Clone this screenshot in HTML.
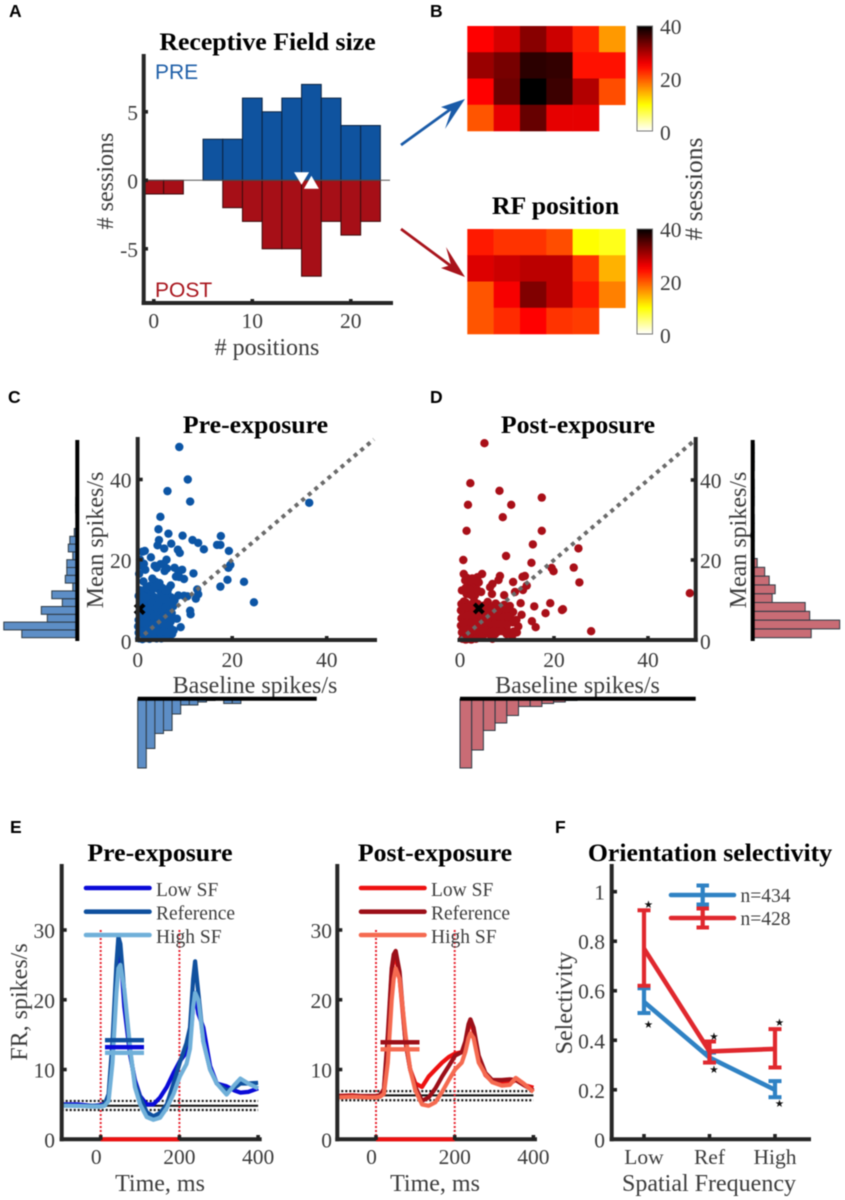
<!DOCTYPE html>
<html lang="en">
<head>
<meta charset="utf-8">
<title>Receptive field and firing rate figure</title>
<style>
html,body{margin:0;padding:0;background:#fff;}
#fig{display:block;width:845px;height:1200px;filter:blur(0.6px);}
text{font-family:"Liberation Serif",serif;}
.tk{font-size:21.5px;fill:#3c3c3c;}
.lab{font-size:24px;fill:#3c3c3c;}
.ttl{font-size:25.8px;font-weight:bold;fill:#000;}
.let{font-family:"Liberation Sans",sans-serif;font-size:17.5px;font-weight:bold;fill:#000;}
.leg{font-size:19.5px;fill:#3c3c3c;}
</style>
</head>
<body>
<svg id="fig" xmlns="http://www.w3.org/2000/svg" width="845" height="1200" viewBox="0 0 845 1200">
  <rect x="0" y="0" width="845" height="1200" fill="#fff"/>
  <defs>
    <linearGradient id="hotGrad" x1="0" y1="1" x2="0" y2="0"></linearGradient>
  </defs>
  <g id="panel-a">
    <text class="let" x="9" y="17">A</text>
    <text class="ttl" x="267.5" y="50" text-anchor="middle">Receptive Field size</text>
    <text x="155" y="79" style="font-family:'Liberation Sans',sans-serif;font-size:21px;fill:#1f5fa8">PRE</text>
    <text x="155" y="297" style="font-family:'Liberation Sans',sans-serif;font-size:21px;fill:#a8141c">POST</text>
    <text class="lab" x="267" y="355" text-anchor="middle"># positions</text>
    <text class="lab" transform="translate(113 181) rotate(-90)" text-anchor="middle"># sessions</text>
  </g>
  <g id="panel-b">
    <text class="let" x="430" y="17">B</text>
    <text class="ttl" x="555.5" y="214" text-anchor="middle">RF position</text>
    <text class="lab" transform="translate(702 189) rotate(-90)" text-anchor="middle" style="font-size:25.5px"># sessions</text>
    <g>
      <line x1="401" y1="145" x2="455" y2="106" stroke="#1a5ba8" stroke-width="2.8"/>
      <polygon points="465,99 441,107 451,111 445,129" fill="#1a5ba8"/>
    </g>
    <g>
      <line x1="401" y1="229" x2="455" y2="269" stroke="#a8141c" stroke-width="2.8"/>
      <polygon points="465,277 446,247 451,265 441,268" fill="#a8141c"/>
    </g>
  </g>
  <g id="panel-c">
    <text class="let" x="8" y="403">C</text>
    <text class="ttl" x="255.5" y="433" text-anchor="middle">Pre-exposure</text>
    <text class="lab" x="255" y="693" text-anchor="middle">Baseline spikes/s</text>
    <text class="lab" transform="translate(103 540) rotate(-90)" text-anchor="middle">Mean spikes/s</text>
  </g>
  <g id="panel-d">
    <text class="let" x="430" y="403">D</text>
    <text class="ttl" x="578" y="433" text-anchor="middle">Post-exposure</text>
    <text class="lab" x="577.5" y="693" text-anchor="middle">Baseline spikes/s</text>
    <text class="lab" transform="translate(746 540) rotate(-90)" text-anchor="middle">Mean spikes/s</text>
  </g>
  <g id="panel-e">
    <text class="let" x="10" y="833">E</text>
    <text class="ttl" x="160" y="861" text-anchor="middle">Pre-exposure</text>
    <text class="ttl" x="435" y="861" text-anchor="middle">Post-exposure</text>
    <text class="lab" x="160" y="1191" text-anchor="middle">Time, ms</text>
    <text class="lab" x="435" y="1191" text-anchor="middle">Time, ms</text>
    <text class="lab" transform="translate(27 1002) rotate(-90)" text-anchor="middle">FR, spikes/s</text>
  </g>
  <g id="panel-f">
    <text class="let" x="555" y="833">F</text>
    <text class="ttl" x="710" y="861" text-anchor="middle">Orientation selectivity</text>
    <text class="lab" transform="translate(572 1003) rotate(-90)" text-anchor="middle">Selectivity</text>
    <text class="lab" x="709" y="1191" text-anchor="middle">Spatial Frequency</text>
  </g>
</svg>
<script>
/* ---------- Panel A data ---------- */
const sizeBins = [0, 2, 4, 6, 8, 10, 12, 14, 16, 18, 20, 22];
const sizePre = [0, 0, 0, 3, 3, 6, 5, 6, 7, 6, 4, 4];
const sizePost = [1, 1, 0, 0, 2, 3, 5, 5, 7, 3, 4, 3];
const sizeMedianPre = 15;
const sizeMedianPost = 16;
const sizeXTicks = [0, 10, 20];
const sizeYTicks = [5, 0, -5];

/* ---------- Panel B data ---------- */
const heatPre = [
  [25, 27.5, 32, 28, 23, 16],
  [31, 33, 37.5, 37, 24, 24],
  [25, 33.5, 40, 36.5, 29.5, 20.5],
  [20, 26.5, 34, 26.5, 26.5, null]
];
const heatPost = [
  [23.5, 22, 22, 20.5, 10, 9],
  [27, 28, 29, 29, 22, 14.5],
  [20, 25.5, 32.5, 29, 23.5, 17.5],
  [20, 22.5, 25, 22, 21.5, null]
];
const colorbarTicks = [0, 20, 40];

/* ---------- Panels C and D data ---------- */
const preBaseline = [8.8,10.6,6.3,11.1,36.3,4.8,4.4,6.5,9.5,11.6,12.8,14,17.6,16.8,17.5,19.3,19.6,19.2,19,17.5,22.5,24.6,11.8,12.6,12.8,12.3,11.1,11.2,9.1,8.3,
7.1,5.6,4.2,4.5,8.9,8.5,2.8,1,1.5,0.5,0.7,1.3,1.6,0.3,1.2,3.6,4,4.8,5.5,6.1,6.2,5.7,7.8,8.6,9.4,8.1,8.8,9.8,3.1,3.8,4.6,7,6.5,
0.2,0.8,1.5,2.2,2.9,3.5,4.2,4.9,5.6,6.3,7.1,7.8,8.6,9.8,10.5,
0.4,1.1,1.9,2.6,3.3,4,4.7,5.4,6.1,6.8,7.5,
0.3,0.9,1.6,2.3,3,3.7,4.4,5.1,5.8,6.5,7.2,
0.2,0.8,1.4,2.1,2.8,3.5,4.2,4.9,5.6,6.3,7,
0.1,0.7,1.3,2,2.7,3.4,4.1,4.8,5.5,6.2,6.9,7.6,
0.2,0.9,1.6,2.3,3,3.7,4.4,5.1,5.8,6.5,7.3,
0.3,1,1.8,2.5,3.2,4,5,
1,1.8,2.6,3.4,4.1,5.2,5.9,0.5,1.3,2,2.8,3.6,4.4,5.1,5.9,6.7,7.4,0.6,1.4,2.3,3,3.7,4.4,5.2,5.9,6.6,
0.6,1.3,2,2.7,3.4,4.1,4.8,5.4,6.1,6.8,0.5,1.1,1.8,2.5,3.2,3.9,4.6,5.2,5.9,6.6,
0.4,1.1,1.9,2.6,3.4,4,4.8,5.5,6.2,7];
const preMean = [48.1,40,37.1,34.5,34.2,30.7,27.6,26.5,26,24.9,24.2,22.6,25.9,23.7,23.7,22.2,18.7,18,15,13.3,14.5,9.4,16.6,12.6,11.4,10.3,7.3,6.4,3.2,5.3,
24,22.8,23.6,24.9,21.7,22.5,20.6,22,22.2,20,18.5,19,17.5,16.5,14.6,18.5,18,18.9,19,20,17.8,17.2,18,17.2,17.5,15.8,15.7,15.2,15.3,14.5,14.2,13.6,12.8,
11,10.2,9.5,12.2,11.4,10.7,12.8,11.9,11.2,11.8,10.6,9.9,11.1,11,10.9,
8.6,7.8,8.9,9.4,8.4,9.1,8.2,9.6,8.7,7.7,8.4,
6.9,6.1,7,6.4,7.3,6.6,7,6.2,6.9,5.9,6.7,
5,4.4,5.3,4.7,5.5,4.8,5.2,4.3,5,4.2,4.6,
3.4,2.9,3.6,3.1,3.7,2.8,3.4,2.7,3.3,2.6,3,2.4,
1.8,1.3,1.9,1.2,1.8,1.1,1.7,1,1.6,1.1,1.5,
0.4,0.2,0.5,0.3,0.6,0.4,0.4,
12,13,13.5,12.9,13.6,13,12.4,12.4,10.9,10.4,10,9.7,10.2,9.9,10.2,9.4,9.2,9.4,8.4,7.7,9.2,7.8,8.8,7.5,7.9,6.8,
5.8,6.3,5.7,6.6,5.8,6.1,5.6,5.8,5.5,5.2,4,4.2,4,3.9,4.1,3.9,3.7,4,3.8,3.6,
2.3,2.2,2.5,2.2,2,2.4,1.9,2.2,1.9,2.1];
const preCenterBaseline = 0.4;
const preCenterMean = 7.7;

const postBaseline = [5.2,2.2,8.4,17.4,1.7,10.9,9.1,1.4,17.4,15.5,25.2,0.7,9.8,15.2,19.5,19.9,24.2,25.4,48.9,27.9,19.2,21.7,21.9,18.2,15.8,16.1,15.3,
13.8,13.3,11.3,14.2,13.4,11.7,9.4,8.5,8.2,6.9,6.4,6.8,4.7,3.7,2.6,0.8,1.1,0.4,1.8,2.9,1.4,3.2,0.8,12.9,10.6,13.1,12.4,
0.3,1.2,2.1,3,3.8,5.1,5.9,6.8,7.6,8.5,9.4,10.2,
0.2,1,1.9,2.8,3.6,4.6,5.4,6.3,7.2,8,8.9,9.8,10.7,11.3,
0.3,1.1,2,2.9,3.7,4.5,5.3,6.2,7,7.9,8.7,9.6,10.4,11.2,12,
0.2,1,1.8,2.7,3.5,4.4,5.2,6.1,7,7.8,8.6,9.9,11.4,12.1,
0.4,1.3,2.1,3,3.8,4.8,5.7,6.6,7.5,9.9,11.1,
0.5,1.2,1.5,2.4,3.4,6.9,
1.5,2.2,3.3,4,1.2,2.1,3.6,2.4,4.5,0.6,1.6,2.5,3.4,4.4,5.5,6.5,7.4,8.4,9.8,
0.7,1.5,2.4,3.2,4.1,5,5.8,6.8,7.6,8.5,9.3,10.2,0.7,1.5,2.4,3.3,4.1,4.9,5.7,6.6,7.4,8.2,9.1,10,
0.8,1.6,2.4,3.2,4,4.9,5.6,6.5,7.3,8.1,8.9];
const postMean = [49.2,39.2,37.3,35.6,33.8,33.8,30.7,27.3,27.3,23.9,22.9,20,21,19.3,18,17.2,18.1,14.4,11.7,2.2,9.2,7.5,7.7,6.7,8.4,3.2,4.7,
16,15.8,14.5,13.6,12.5,12,11.2,16,15,14,13.2,11.5,16.5,15.7,15.4,16.5,14.9,12.4,14,13.7,11.5,11.2,9.6,9.2,8.5,6.3,3.4,
9,9.4,8.8,9.8,9,8.6,9.5,8.3,9.1,8.4,8.8,7.9,
7.4,6.9,7.6,7,7.5,7.1,6.6,7.3,6.5,7,6.4,6.9,6.2,7,
5.4,4.9,5.6,5,5.5,4.8,5.6,4.9,5.3,4.6,5.2,4.5,5,4.4,5,
3.6,3,3.7,3.1,3.5,2.8,3.4,2.7,3.3,2.6,3.2,2.9,2.1,1.9,
1.9,1.3,1.9,1.2,1.6,1,1.6,1.1,1.5,1.5,1,
0.3,0.1,0.2,0.1,0.3,0.3,
15.5,14.8,15,14.4,13,12.6,12.6,11.2,12,8.2,8.3,8.1,8.2,8.4,7.8,8,7.9,7.7,7.8,
6.2,6,6.3,6.2,6.2,5.9,6,5.9,5.9,5.8,5.7,5.8,4.2,4.3,4.2,4.3,3.9,4.2,4.3,4.1,4.1,3.9,3.9,3.8,
2.5,2.6,2.5,2.3,2.2,2.2,2.4,2,2.3,2.1,2.2];
const postCenterBaseline = 4;
const postCenterMean = 7.9;

const scatterTicks = [0, 20, 40];
const unityLine = [0, 50];
const preMeanHist = [37, 49, 20, 24, 10, 17, 3, 8, 7, 7, 3, 6, 5, 2, 0, 0, 1, 1];
const preBaseHist = [46, 33, 23, 21, 10, 4, 4, 2, 1, 0, 3, 3];
const postMeanHist = [39, 58, 38, 35, 13, 15, 11, 8, 3, 1, 1, 1, 1, 1, 0, 1, 1, 1, 0, 1, 1, 1];
const postBaseHist = [46, 34, 21, 16, 11, 5, 5, 3, 2, 1];

/* ---------- Panel E data ---------- */
const times = [-100,-60,-20,0,10,20,30,40,45,50,60,75,87,100,117,134,151,168,185,201,218,227,235,240,248,261,278,295,320,340,355,375,400];
const preLowFR = [5,5,4.8,4.9,5.1,6,13,24,28.5,27,19,12,8.5,6.2,5,5,6,7.5,9.5,11.2,12.5,14,19,21,18,16,10.5,8,7.6,7,6.7,6.8,7.3];
const preRefFR = [4.9,4.8,4.8,4.8,5,6.5,14,25,29,28,21,12.5,8,6,3.9,3.3,3.8,5,8,11,13.8,16,23,25.5,21,14,10,8,7,7.4,8,8,8.1];
const preHighFR = [4.8,4.8,4.7,4.7,4.8,5.5,11,21,24.5,25,21.5,13,7.5,5,3.2,2.8,3.1,4.5,6.5,9,10.8,13,19,21,20,14,10,8,6.4,7.8,8.7,8,7.3];
const postLowFR = [6.2,6.3,6.1,6.2,6.3,7,14,24,26,26.5,23,14,10,8,7.5,9,10,11,11.8,12.3,12.5,13.5,16,17,15.5,11.5,9.2,8.3,8.3,8,8.5,7.8,7.4];
const postRefFR = [6.2,6.2,6.2,6.2,6.3,7.2,15,24.5,26.5,27,24,14,10,7.5,5.5,6,7.3,9,10.5,12,12.5,14,16.5,17.2,16,12,9.5,8.5,8.5,8.6,8.5,7.8,7];
const postHighFR = [6,6.1,6,6,6.1,6.5,11,20,23,24.5,23,15,10,7,5,4.8,5.3,6.8,8.5,10,11,12.5,14.5,15.2,14.5,11,9.3,8.2,7.7,7.8,8.8,8,6.8];
const preMeanBars = [13.2, 14.2, 12.4];
const postMeanBars = [13.9, 13.9, 12.9];
const preBaselineLevels = [4.8, 5.5, 4.2];
const postBaselineLevels = [6.3, 6.9, 5.6];
const stimulusWindow = [0, 200];
const frYTicks = [0, 10, 20, 30];
const frXTicks = [0, 200, 400];
const sfLegend = ["Low SF", "Reference", "High SF"];

/* ---------- Panel F data ---------- */
const sfCategories = ["Low", "Ref", "High"];
const selBlue = [0.555, 0.33, 0.2];
const selBlueLow = [0.51, 0.31, 0.17];
const selBlueHigh = [0.61, 0.35, 0.235];
const selRed = [0.77, 0.355, 0.365];
const selRedLow = [0.62, 0.31, 0.29];
const selRedHigh = [0.925, 0.395, 0.445];
const starCategory = [0, 0, 1, 1, 2, 2];
const starValue = [0.95, 0.465, 0.418, 0.283, 0.473, 0.146];
const selTicks = [0, 0.2, 0.4, 0.6, 0.8, 1];
const selTickLabels = ["0", "0.2", "0.4", "0.6", "0.8", "1"];
const selLegend = ["n=434", "n=428"];

/* ---------- helpers ---------- */
const SVGNS = 'http://www.w3.org/2000/svg';
function add(parent, tag, name, attrs, txt) {
  const el = document.createElementNS(SVGNS, tag);
  
  
  for (const k in attrs) el.setAttribute(k, attrs[k]);
  if (txt !== undefined) el.textContent = txt;
  parent.appendChild(el);
  return el;
}
function linear(d0, d1, r0, r1) {
  return function (v) { return r0 + (v - d0) * (r1 - r0) / (d1 - d0); };
}
const AXIS = '#262626';
function axisLine(p, name, x1, y1, x2, y2) {
  add(p, 'line', name, {x1: x1, y1: y1, x2: x2, y2: y2, stroke: AXIS, 'stroke-width': 4, 'stroke-linecap': 'square'});
}
function tickMark(p, name, x1, y1, x2, y2) {
  add(p, 'line', name, {x1: x1, y1: y1, x2: x2, y2: y2, stroke: '#222', 'stroke-width': 3.6});
}
function label(p, name, x, y, anchor, txt) {
  add(p, 'text', name, {x: x, y: y, 'text-anchor': anchor, 'class': 'tk'}, txt);
}
function hot(v) {
  const t = 1 - v / 40;
  const c = function (a) { return Math.round(255 * Math.max(0, Math.min(1, a))); };
  return 'rgb(' + c(t / 0.375) + ',' + c((t - 0.375) / 0.375) + ',' + c((t - 0.75) / 0.25) + ')';
}

/* ---------- Panel A ---------- */
(function () {
  const p = document.getElementById('panel-a');
  const x = linear(0, 20, 153.8, 350.8);
  const y = linear(0, 5, 180.3, 111.8);
  const BLUE = '#0f539f', RED = '#a60f17';
  const binW = 2;
  sizeBins.forEach(function (b, i) {
    if (sizePre[i] > 0) {
      add(p, 'rect', 'pre-bar-' + b, {x: x(b - binW / 2), y: y(sizePre[i]), width: x(b + binW / 2) - x(b - binW / 2), height: y(0) - y(sizePre[i]), fill: BLUE, stroke: '#0a2342', 'stroke-width': 1});
    }
    if (sizePost[i] > 0) {
      add(p, 'rect', 'post-bar-' + b, {x: x(b - binW / 2), y: y(0), width: x(b + binW / 2) - x(b - binW / 2), height: y(-sizePost[i]) - y(0), fill: RED, stroke: '#3d0a0c', 'stroke-width': 1});
    }
  });
  add(p, 'line', 'zero-line', {x1: 144, y1: y(0), x2: 390, y2: y(0), stroke: '#555', 'stroke-width': 1});
  const mx1 = x(sizeMedianPre), mx2 = x(sizeMedianPost);
  add(p, 'polygon', 'pre-median-marker', {points: (mx1 - 7.5) + ',' + (y(0) - 8) + ' ' + (mx1 + 7.5) + ',' + (y(0) - 8) + ' ' + mx1 + ',' + (y(0) + 4.5), fill: '#fff'});
  add(p, 'polygon', 'post-median-marker', {points: (mx2 - 7.5) + ',' + (y(0) + 8.5) + ' ' + (mx2 + 7.5) + ',' + (y(0) + 8.5) + ' ' + mx2 + ',' + (y(0) - 4.5), fill: '#fff'});
  axisLine(p, 'y-axis', 143.7, 56, 143.7, 303);
  axisLine(p, 'x-axis', 143.7, 303, 391, 303);
  sizeXTicks.forEach(function (t) {
    tickMark(p, 'x-tick-' + t, x(t), 303, x(t), 299);
    label(p, 'x-tick-label-' + t, x(t), 328, 'middle', String(t));
  });
  sizeYTicks.forEach(function (t) {
    tickMark(p, 'y-tick-' + t, 144, y(t), 148, y(t));
    label(p, 'y-tick-label-' + t, 138, y(t) + 8, 'end', String(t));
  });
})();

/* ---------- Panel B ---------- */
(function () {
  const p = document.getElementById('panel-b');
  const grad = document.getElementById('hotGrad');
  for (let v = 0; v <= 40; v += 2) {
    const s = document.createElementNS(SVGNS, 'stop');
    s.setAttribute('offset', (v / 40));
    s.setAttribute('stop-color', hot(v));
    grad.appendChild(s);
  }
  function heat(name, rows, top) {
    const cx = linear(0, 6, 467.3, 625.3);
    const cy = linear(0, 4, top, top + 105);
    rows.forEach(function (row, r) {
      row.forEach(function (v, c) {
        if (v === null) return;
        add(p, 'rect', name + '-cell-' + r + '-' + c, {x: cx(c), y: cy(r), width: cx(c + 1) - cx(c) + 0.3, height: cy(r + 1) - cy(r) + 0.3, fill: hot(v)});
      });
    });
    add(p, 'rect', name + '-colorbar', {x: 637, y: top, width: 15.5, height: 105, fill: 'url(#hotGrad)', stroke: '#777', 'stroke-width': 1});
    const vy = linear(0, 40, top + 107, top + 1);
    colorbarTicks.forEach(function (t) {
      label(p, name + '-colorbar-tick-' + t, 660, vy(t) + 7, 'start', String(t));
    });
  }
  heat('heatmap-pre', heatPre, 26);
  heat('heatmap-post', heatPost, 229);
})();

/* ---------- Panels C and D ---------- */
function scatter(p, prefix, cfg, xs, ys, cb, cm, color) {
  const x = linear(0, 40, cfg.x0, cfg.x40);
  const y = linear(0, 40, 640, cfg.y40);
  xs.forEach(function (b, i) {
    add(p, 'circle', prefix + '-point', {cx: x(b), cy: y(ys[i]), r: 4.2, fill: color});
  });
  add(p, 'line', prefix + '-unity-line', {x1: x(unityLine[0]), y1: y(unityLine[0]), x2: x(unityLine[1]), y2: y(unityLine[1]), stroke: '#6a6a6a', 'stroke-width': 4, 'stroke-dasharray': '4 4.6'});
  const px = x(cb), py = y(cm);
  add(p, 'path', prefix + '-population-mean-marker', {d: 'M' + (px - 4.5) + ' ' + (py - 4.5) + 'L' + (px + 4.5) + ' ' + (py + 4.5) + 'M' + (px - 4.5) + ' ' + (py + 4.5) + 'L' + (px + 4.5) + ' ' + (py - 4.5), stroke: '#000', 'stroke-width': 4, fill: 'none'});
  axisLine(p, prefix + '-x-axis', cfg.x0 - 0.5, 640, cfg.xEnd, 640);
  axisLine(p, prefix + '-y-axis', cfg.yAxisX, 439, cfg.yAxisX, 640);
  scatterTicks.forEach(function (t) {
    if (t > 0) {
      tickMark(p, prefix + '-x-tick-' + t, x(t), 640, x(t), 636);
      tickMark(p, prefix + '-y-tick-' + t, cfg.yAxisX, y(t), cfg.yAxisX + (cfg.right ? -5 : 5), y(t));
    }
    label(p, prefix + '-x-tick-label-' + t, x(t), 667, 'middle', String(t));
    label(p, prefix + '-y-tick-label-' + t, cfg.labelX, y(t) + (t === 0 ? 9 : 8), cfg.right ? 'start' : 'end', String(t));
  });
}
function sideHist(p, prefix, counts, lineX, dir, binH, fill) {
  const w = linear(0, 1, 0, 1.5);
  const by = linear(0, 1, 637.7, 637.7 - binH);
  counts.forEach(function (c, i) {
    if (c === 0) return;
    const len = w(c);
    add(p, 'rect', prefix + '-bar', {x: dir < 0 ? lineX - len : lineX, y: by(i + 1), width: len, height: binH, fill: fill, stroke: '#2e3a44', 'stroke-width': 1});
  });
  add(p, 'line', prefix + '-axis', {x1: lineX, y1: 440, x2: lineX, y2: 641, stroke: '#000', 'stroke-width': 4});
}
function bottomHist(p, prefix, counts, x0, x1, binW, fill) {
  const h = linear(0, 1, 0, 1.5);
  const bx = linear(0, 1, x0, x0 + binW);
  counts.forEach(function (c, i) {
    if (c === 0) return;
    add(p, 'rect', prefix + '-bar', {x: bx(i), y: 699, width: binW, height: h(c), fill: fill, stroke: '#2e3a44', 'stroke-width': 1});
  });
  add(p, 'line', prefix + '-axis', {x1: x0, y1: 698.7, x2: x1, y2: 698.7, stroke: '#000', 'stroke-width': 4});
}
(function () {
  const c = document.getElementById('panel-c');
  scatter(c, 'pre', {x0: 137.7, x40: 326.7, y40: 479.5, xEnd: 375, yAxisX: 137.7, labelX: 131.5, right: false}, preBaseline, preMean, preCenterBaseline, preCenterMean, '#0c55a5');
  sideHist(c, 'pre-mean-hist', preMeanHist, 77.3, -1, 7.8, '#5d8ec6');
  bottomHist(c, 'pre-baseline-hist', preBaseHist, 137.7, 316.7, 8.6, '#5d8ec6');
  const d = document.getElementById('panel-d');
  scatter(d, 'post', {x0: 460, x40: 648, y40: 480, xEnd: 695.7, yAxisX: 695.7, labelX: 700, right: true}, postBaseline, postMean, postCenterBaseline, postCenterMean, '#a90f18');
  sideHist(d, 'post-mean-hist', postMeanHist, 752.7, 1, 8.8, '#c96c75');
  bottomHist(d, 'post-baseline-hist', postBaseHist, 460, 695.7, 11.7, '#c96c75');
})();

/* ---------- Panel E ---------- */
function psth(prefix, cfg, series, colors, bars, levels) {
  const p = document.getElementById('panel-e');
  const x = linear(0, 200, cfg.x0, cfg.x0 + 78.7);
  const y = linear(0, 30, 1139.3, 930);
  const axisEnd = x(404);
  add(p, 'line', prefix + '-baseline', {x1: cfg.yAxis, y1: y(levels[0]), x2: x(400), y2: y(levels[0]), stroke: '#111', 'stroke-width': 2});
  add(p, 'line', prefix + '-baseline-upper', {x1: cfg.yAxis, y1: y(levels[1]), x2: x(400), y2: y(levels[1]), stroke: '#111', 'stroke-width': 2.2, 'stroke-dasharray': '2 2'});
  add(p, 'line', prefix + '-baseline-lower', {x1: cfg.yAxis, y1: y(levels[2]), x2: x(400), y2: y(levels[2]), stroke: '#111', 'stroke-width': 2.2, 'stroke-dasharray': '2 2'});
  stimulusWindow.forEach(function (t) {
    add(p, 'line', prefix + '-stimulus-line-' + t, {x1: x(t), y1: y(30), x2: x(t), y2: y(0), stroke: '#e8202c', 'stroke-width': 2, 'stroke-dasharray': '2 2'});
  });
  const names = ['low-sf', 'reference', 'high-sf'];
  series.forEach(function (vals, s) {
    const d = times.map(function (t, i) { return (i ? 'L' : 'M') + x(t).toFixed(1) + ' ' + y(vals[i]).toFixed(1); }).join('');
    add(p, 'path', prefix + '-' + names[s] + '-curve', {d: d, fill: 'none', stroke: colors[s], 'stroke-width': 4.2, 'stroke-linejoin': 'round'});
  });
  bars.forEach(function (v, s) {
    add(p, 'line', prefix + '-' + names[s] + '-mean-bar', {x1: cfg.barX, y1: y(v), x2: cfg.barX + 39, y2: y(v), stroke: colors[s], 'stroke-width': 4.4});
  });
  const legendY = [888, 911.7, 935];
  sfLegend.forEach(function (txt, s) {
    add(p, 'line', prefix + '-legend-line-' + names[s], {x1: cfg.legX, y1: legendY[s], x2: cfg.legX + 63.5, y2: legendY[s], stroke: colors[s], 'stroke-width': 4.6, 'stroke-linecap': 'round'});
    add(p, 'text', prefix + '-legend-label-' + names[s], {x: cfg.legX + 70, y: legendY[s] + 8, 'class': 'leg'}, txt);
  });
  axisLine(p, prefix + '-x-axis', cfg.yAxis, 1139.3, axisEnd, 1139.3);
  axisLine(p, prefix + '-y-axis', cfg.yAxis, 866, cfg.yAxis, 1139.3);
  add(p, 'line', prefix + '-stimulus-bar', {x1: x(stimulusWindow[0]), y1: 1139.3, x2: x(stimulusWindow[1]), y2: 1139.3, stroke: '#ee1111', 'stroke-width': 4.2});
  frXTicks.forEach(function (t) {
    tickMark(p, prefix + '-x-tick-' + t, x(t), 1140, x(t), 1135);
    label(p, prefix + '-x-tick-label-' + t, x(t) - (t === 0 ? 4.5 : 0), 1164, 'middle', String(t));
  });
  frYTicks.forEach(function (t) {
    if (t > 0) tickMark(p, prefix + '-y-tick-' + t, cfg.yAxis, y(t), cfg.yAxis + 5, y(t));
    label(p, prefix + '-y-tick-label-' + t, cfg.yLabelX, y(t) + 8, 'end', String(t));
  });
}
psth('pre-psth', {x0: 100.7, yAxis: 61.7, barX: 105, legX: 86, yLabelX: 55}, [preLowFR, preRefFR, preHighFR], ['#0a0ad8', '#0f509e', '#70b0d9'], preMeanBars, preBaselineLevels);
psth('post-psth', {x0: 376, yAxis: 337.3, barX: 380.5, legX: 361, yLabelX: 332}, [postLowFR, postRefFR, postHighFR], ['#ee1010', '#9c0f18', '#f56a50'], postMeanBars, postBaselineLevels);

/* ---------- Panel F ---------- */
(function () {
  const p = document.getElementById('panel-f');
  const x = linear(0, 2, 644, 775);
  const y = linear(0, 1, 1139.3, 891.7);
  const BLUE = '#2f82c4', RED = '#e0282e';
  function series(name, vals, lo, hi, color) {
    const d = vals.map(function (v, i) { return (i ? 'L' : 'M') + x(i) + ' ' + y(v).toFixed(1); }).join('');
    vals.forEach(function (v, i) {
      add(p, 'line', name + '-error-bar-' + i, {x1: x(i), y1: y(lo[i]), x2: x(i), y2: y(hi[i]), stroke: color, 'stroke-width': 4.2});
      add(p, 'line', name + '-error-cap-low-' + i, {x1: x(i) - 6.5, y1: y(lo[i]), x2: x(i) + 6.5, y2: y(lo[i]), stroke: color, 'stroke-width': 4});
      add(p, 'line', name + '-error-cap-high-' + i, {x1: x(i) - 6.5, y1: y(hi[i]), x2: x(i) + 6.5, y2: y(hi[i]), stroke: color, 'stroke-width': 4});
    });
    add(p, 'path', name + '-line', {d: d, fill: 'none', stroke: color, 'stroke-width': 4.6, 'stroke-linejoin': 'round'});
  }
  series('blue-series', selBlue, selBlueLow, selBlueHigh, BLUE);
  series('red-series', selRed, selRedLow, selRedHigh, RED);
  starValue.forEach(function (v, i) {
    add(p, 'text', 'significance-star', {x: x(starCategory[i]) + 4.4, y: y(v) + 4, 'text-anchor': 'middle', style: 'font-family:"DejaVu Sans",sans-serif;font-size:10.5px;fill:#111'}, '★');
  });
  const legendY = [895, 918];
  const colors = [BLUE, RED];
  selLegend.forEach(function (txt, i) {
    const ly = legendY[i];
    add(p, 'line', 'legend-line-' + i, {x1: 671, y1: ly, x2: 734, y2: ly, stroke: colors[i], 'stroke-width': 4.6, 'stroke-linecap': 'round'});
    add(p, 'line', 'legend-error-' + i, {x1: 702.7, y1: ly - 9.5, x2: 702.7, y2: ly + 9.5, stroke: colors[i], 'stroke-width': 4.2});
    add(p, 'line', 'legend-cap-top-' + i, {x1: 696.5, y1: ly - 9.5, x2: 709, y2: ly - 9.5, stroke: colors[i], 'stroke-width': 4});
    add(p, 'line', 'legend-cap-bottom-' + i, {x1: 696.5, y1: ly + 9.5, x2: 709, y2: ly + 9.5, stroke: colors[i], 'stroke-width': 4});
    add(p, 'text', 'legend-label-' + i, {x: 740.5, y: ly + 7, 'class': 'leg'}, txt);
  });
  axisLine(p, 'selectivity-x-axis', 611.7, 1139.3, 809, 1139.3);
  axisLine(p, 'selectivity-y-axis', 611.7, 866, 611.7, 1139.3);
  sfCategories.forEach(function (c, i) {
    tickMark(p, 'category-tick-' + c, x(i), 1139, x(i), 1134);
    label(p, 'category-label-' + c, x(i), 1164, 'middle', c);
  });
  selTicks.forEach(function (t, i) {
    if (t > 0) tickMark(p, 'selectivity-tick-' + selTickLabels[i], 612, y(t), 617, y(t));
    label(p, 'selectivity-tick-label-' + selTickLabels[i], 605, y(t) + 8, 'end', selTickLabels[i]);
  });
})();
</script>
</body>
</html>
